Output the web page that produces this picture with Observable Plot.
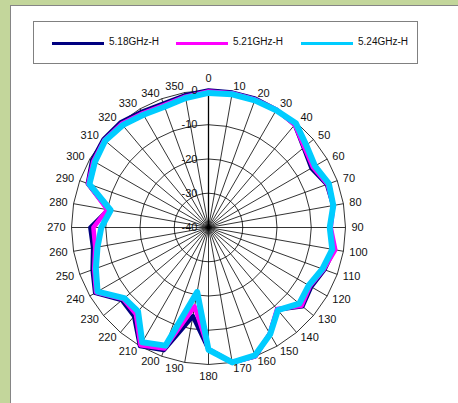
<!DOCTYPE html>
<html>
<head>
<meta charset="utf-8">
<script src="https://cdn.jsdelivr.net/npm/d3@7"></script>
<script src="https://cdn.jsdelivr.net/npm/@observablehq/plot@0.6"></script>
<style>
  html, body { margin: 0; padding: 0; }
  body { width: 458px; height: 403px; background: #c3d69b; position: relative; overflow: hidden; font-family: "Liberation Sans", Arial, sans-serif; }
  #panel { position: absolute; left: 10px; top: 5px; width: 470px; height: 420px; background: #fff; border: 1.5px solid #858585; box-sizing: border-box; }
  #legend { position: absolute; left: 33px; top: 21px; width: 385px; height: 43px; border: 1px solid #808080; box-sizing: border-box; background: #fff; }
  .sw { position: absolute; top: 20px; height: 3px; }
  .lt { position: absolute; top: 14px; font-size: 10px; color: #111; line-height: 12px; white-space: nowrap; }
  #chart { position: absolute; left: 0; top: 70px; }
</style>
</head>
<body>
<div id="panel"></div>
<div id="legend"></div>
<div id="chart"></div>
<script>
// Categories (degrees) and tick labels
const angles = [0,10,20,30,40,50,60,70,80,90,100,110,120,130,140,150,160,170,180,190,200,210,220,230,240,250,260,270,280,290,300,310,320,330,340,350];
const angleLabels = angles.map(String);
const ringValues = [-40, -30, -20, -10, 0];
const ringLabels = ["-40", "-30", "-20", "-10", "0"];
const seriesNames = ["5.18GHz-H", "5.21GHz-H", "5.24GHz-H"];
const seriesColors = ["#000080", "#ff00ff", "#00ccff"];

// Series values (dB), one per angle
const s518 = [0,0,0,-0.3,-0.8,-3.7,-5.3,-3.2,-3.0,-4.5,-2.8,-4.0,-5.4,-4.2,-8.7,-4.2,0,0,-4.5,-13.7,-1.9,0,-6.2,-7.0,-1.8,-4.0,-5.8,-5.5,-10.3,-2.5,-0.8,0,0,-1.0,-1.5,-0.8];
const s521 = [-0.3,-0.2,-0.2,-0.3,-0.8,-3.5,-4.8,-3.0,-3.0,-4.3,-2.4,-4.2,-5.8,-4.5,-8.9,-4.2,0,0,-4.5,-16.6,-2.4,-0.3,-7.0,-7.5,-2.1,-4.5,-6.4,-6.4,-10.0,-2.6,-1.2,-0.3,-0.5,-1.5,-2.0,-1.2];
const s524 = [-0.7,-0.5,-0.5,-0.5,-0.3,-2.7,-4.1,-2.6,-3.0,-4.6,-3.3,-4.6,-6.2,-5.4,-8.5,-4.0,-0.3,0,-4.3,-20.9,-3.3,-1.3,-8.0,-7.9,-2.6,-5.0,-7.1,-8.7,-11.0,-3.0,-1.7,-0.6,-1.0,-2.0,-2.5,-1.6];
const seriesValues = [s518, s521, s524];

const minV = -40;
const rad = a => a * Math.PI / 180;
const px = (a, v) => (v - minV) * Math.sin(rad(a));
const py = (a, v) => (v - minV) * Math.cos(rad(a));

const seriesData = seriesNames.map((name, i) =>
  angles.map((a, j) => ({name, a, v: seriesValues[i][j]})));

const ringData = ringValues.slice(1).flatMap(rv => angles.map(a => ({rv, a})));
const spokeData = angles.map((a, i) => ({a}));
const outerR = 0; // outer ring value
const labelR = 41.75 + minV; // label distance expressed in value units
const labelRmid = 43.5 + minV;

const font = "'Liberation Sans', Arial, sans-serif";

const marks = [
  Plot.line(ringData, {x: d => px(d.a, d.rv), y: d => py(d.a, d.rv), z: "rv", curve: "linear-closed", stroke: "#000", strokeWidth: 0.8}),
  Plot.link(spokeData, {x1: 0, y1: 0, x2: d => px(d.a, outerR), y2: d => py(d.a, outerR), stroke: "#000", strokeWidth: d => d.a === 0 ? 1.3 : 0.8}),
  ...seriesData.map((sd, i) => Plot.line(sd, {
    x: d => px(d.a, d.v), y: d => py(d.a, d.v),
    curve: "linear-closed", stroke: seriesColors[i],
    strokeWidth: i === 2 ? 6 : 4.5, strokeLinejoin: "round"
  })),
  Plot.text(ringValues.map((v, i) => ({v, t: ringLabels[i]})), {
    x: 0, y: d => d.v - minV, text: "t", textAnchor: "end", dx: -11, fontSize: 11, fill: "#111"
  }),
  Plot.text(angles.map((a, i) => ({a, t: angleLabels[i]})).filter(d => d.a > 0 && d.a < 180), {
    x: d => px(d.a, labelR), y: d => py(d.a, labelR), text: "t", textAnchor: "start", fontSize: 11, fill: "#111"
  }),
  Plot.text(angles.map((a, i) => ({a, t: angleLabels[i]})).filter(d => d.a > 180), {
    x: d => px(d.a, labelR), y: d => py(d.a, labelR), text: "t", textAnchor: "end", fontSize: 11, fill: "#111"
  }),
  Plot.text(angles.map((a, i) => ({a, t: angleLabels[i]})).filter(d => d.a === 0 || d.a === 180), {
    x: d => px(d.a, labelRmid), y: d => py(d.a, labelRmid), text: "t", textAnchor: "middle", fontSize: 11, fill: "#111"
  })
];

const chart = Plot.plot({
  width: 458, height: 333,
  marginLeft: 71, marginRight: 113, marginTop: 20, marginBottom: 39,
  x: {domain: [-40, 40], axis: null},
  y: {domain: [-40, 40], axis: null},
  style: {background: "transparent", fontFamily: font, overflow: "visible"},
  marks
});
document.getElementById("chart").appendChild(chart);

// Legend
const legend = document.getElementById("legend");
const swLeft = [18, 142, 267];
const txtLeft = [75, 199, 324];
seriesNames.forEach((name, i) => {
  const sw = document.createElement("div");
  sw.className = "sw";
  sw.style.left = swLeft[i] + "px";
  sw.style.width = "52px";
  sw.style.background = seriesColors[i];
  legend.appendChild(sw);
  const t = document.createElement("div");
  t.className = "lt";
  t.style.left = txtLeft[i] + "px";
  t.textContent = name;
  legend.appendChild(t);
});
</script>
</body>
</html>
